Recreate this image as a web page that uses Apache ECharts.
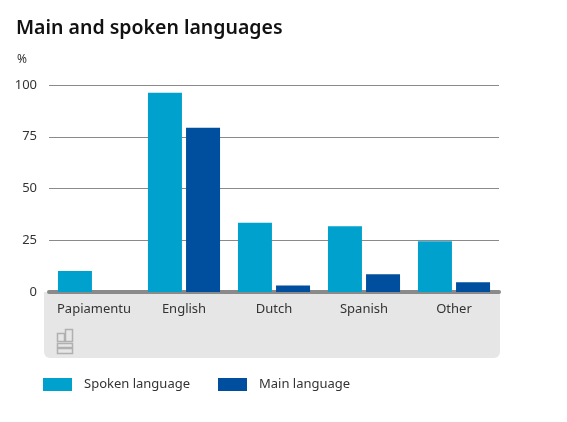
<!DOCTYPE html>
<html lang="en">
<head>
    <meta charset="UTF-8">
    <title>Main and spoken languages</title>
    <style>
        * {
            margin: 0;
            padding: 0;
        }

        .main {
            width: 567px;
            height: 422px;
        }
    </style>
</head>
<body>
<div id="main" class="main"></div>
<script src="https://cdn.jsdelivr.net/npm/echarts@6/dist/echarts.min.js"></script>
<script>
    var categories = ['Papiamentu', 'English', 'Dutch', 'Spanish', 'Other'];
    var spoken = [10.1, 96.3, 33.4, 31.8, 24.5];
    var main = [null, 79.3, 3.2, 8.6, 4.7];
    var seriesNames = ['Spoken language', 'Main language'];

    var myChart = echarts.init(document.getElementById('main'), null, {renderer: 'canvas'});

    var font = 'Noto Sans';

    myChart.setOption({
        animation: false,
        title: {
            text: 'Main and spoken languages',
            left: 11,
            top: 13,
            textStyle: {fontFamily: font, fontSize: 19.5, fontWeight: 600, color: '#111'}
        },
        legend: {
            data: seriesNames,
            left: 38,
            top: 373,
            itemWidth: 29,
            itemHeight: 13,
            itemGap: 28,
            icon: 'rect',
            textStyle: {fontFamily: font, fontSize: 13, color: '#333', padding: [0, 0, 0, 7]}
        },
        grid: {
            left: 49,
            right: 68,
            top: 85,
            bottom: 130
        },
        // grey panel under the category labels + cbs mark
        graphic: [{
            type: 'rect',
            z: -1,
            shape: {x: 44, y: 292, width: 456, height: 66, r: [0, 0, 6, 6]},
            style: {fill: '#e6e6e6'}
        }, {
            type: 'text',
            left: 17,
            top: 54,
            style: {text: '%', fontFamily: font, fontSize: 12, fill: '#333'}
        }, {
            type: 'group',
            left: 55,
            top: 327,
            children: [
                {type: 'rect', shape: {x: 0, y: 0, width: 7, height: 8}, style: {fill: 'none', stroke: '#b0b0b0', lineWidth: 1.5}},
                {type: 'rect', shape: {x: 8, y: -4, width: 7, height: 12}, style: {fill: 'none', stroke: '#b0b0b0', lineWidth: 1.5}},
                {type: 'rect', shape: {x: 0, y: 10, width: 15, height: 4}, style: {fill: 'none', stroke: '#b0b0b0', lineWidth: 1.5}},
                {type: 'rect', shape: {x: 0, y: 15, width: 15, height: 5}, style: {fill: 'none', stroke: '#b0b0b0', lineWidth: 1.5}}
            ]
        }],
        xAxis: {
            type: 'category',
            data: categories,
            axisTick: {show: false},
            axisLine: {lineStyle: {color: '#8a8a8a', width: 4}},
            axisLabel: {interval: 0, fontFamily: font, fontSize: 13, color: '#333', margin: 11}
        },
        yAxis: {
            type: 'value',
            min: 0,
            max: 100,
            interval: 25,
            axisLine: {show: false},
            axisTick: {show: false},
            axisLabel: {fontFamily: font, fontSize: 13, color: '#333', margin: 12},
            splitLine: {lineStyle: {color: '#8a8a8a', width: 1}}
        },
        series: [{
            name: seriesNames[0],
            type: 'bar',
            data: spoken,
            barWidth: 34,
            barGap: '12%',
            itemStyle: {color: '#00a1cd'}
        }, {
            name: seriesNames[1],
            type: 'bar',
            data: main,
            barWidth: 34,
            barGap: '12%',
            itemStyle: {color: '#004f9f'}
        }]
    });
</script>
</body>
</html>
